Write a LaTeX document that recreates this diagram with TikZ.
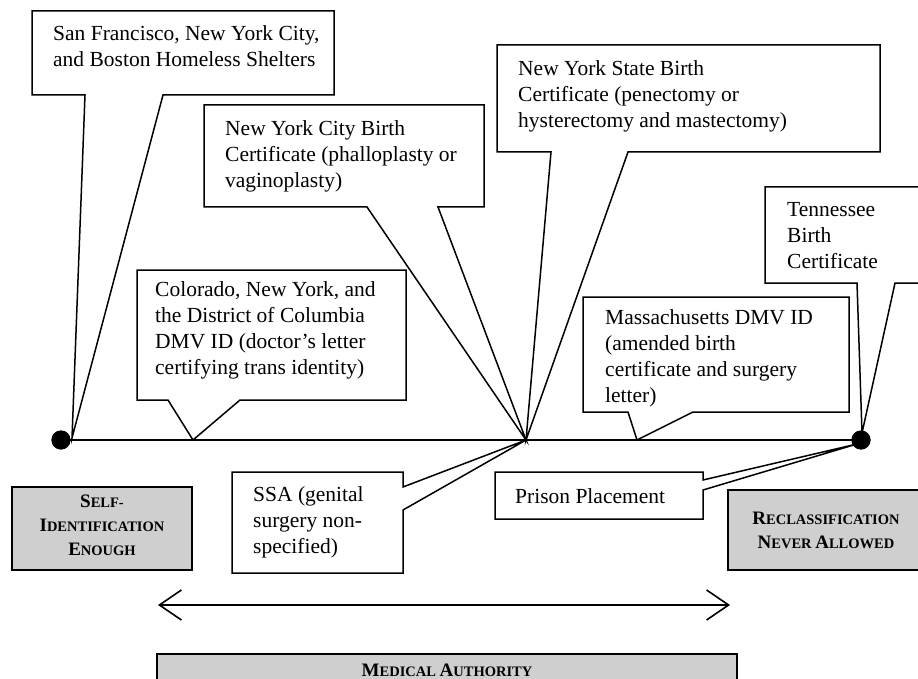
\documentclass[tikz,border=0pt]{standalone}
\usepackage{fontspec}
\setmainfont{Liberation Serif}
\usetikzlibrary{arrows.meta}
\newcommand{\fsc}[2]{{\fontsize{19}{25}\selectfont #1}{\fontsize{14.5}{25}\selectfont #2}}
\begin{document}
\begin{tikzpicture}[x=1pt,y=-1pt,
  ln/.style={line width=1.6pt},
  callout/.style={draw, fill=white, line width=1.5pt, line join=miter},
  txt/.style={anchor=north west, inner sep=0pt, align=left, font=\fontsize{21.5}{26}\selectfont},
  graybox/.style={draw, fill=black!19, line width=1.3pt},
  glabel/.style={inner sep=0pt, align=center, font=\bfseries\fontsize{14.5}{24}\selectfont},
  dot/.style={circle, fill=black, inner sep=0pt, minimum size=19pt}]
\useasboundingbox (0,0) rectangle (918,679);
% anchor points
\coordinate (hub) at (526,440);
\coordinate (tipL) at (72,438);
\coordinate (tipC) at (193,440);
\coordinate (tipM) at (637,440);
\coordinate (tipT) at (862,433);
\coordinate (tipP) at (857,444);
\node[dot] (dotL) at (61,440) {};
\node[dot] (dotR) at (861,440) {};
% main line
\draw[ln] (dotL.center) -- (dotR.center);
% callouts
\draw[callout] (32,11) -- (334,11) -- (334,95) -- (163,95) -- (tipL) -- (85,95) -- (32,95) -- cycle;
\draw[callout] (204,105) -- (484,105) -- (484,207) -- (438,207) -- (hub) -- (367,207) -- (204,207) -- cycle;
\draw[callout] (497,45) -- (880,45) -- (880,152) -- (628,152) -- (hub) -- (551,152) -- (497,152) -- cycle;
\draw[callout] (765,187) -- (935,187) -- (935,283) -- (895,283) -- (tipT) -- (857,283) -- (765,283) -- cycle;
\draw[callout] (137,270) -- (406,270) -- (406,400) -- (240,400) -- (tipC) -- (168,400) -- (137,400) -- cycle;
\draw[callout] (583,297) -- (849,297) -- (849,412) -- (693,412) -- (tipM) -- (628,412) -- (583,412) -- cycle;
\draw[callout] (232,472) -- (403,472) -- (403,487) -- (hub) -- (403,510) -- (403,573) -- (232,573) -- cycle;
\draw[callout] (495,472) -- (703,472) -- (703,480) -- (tipP) -- (703,490) -- (703,519) -- (495,519) -- cycle;
% dots on top
\node[dot] at (dotL) {};
\node[dot] at (dotR) {};
% texts
\node[txt] (t1) at (53,25) {San Francisco, New York City,\\and Boston Homeless Shelters};
\node[txt] (t2) at (225,120) {New York City Birth\\Certificate (phalloplasty or\\vaginoplasty)};
\node[txt] (t3) at (518,60) {New York State Birth\\Certificate (penectomy or\\hysterectomy and mastectomy)};
\node[txt] (t4) at (787,202) {Tennessee\\Birth\\Certificate};
\node[txt] (t5) at (155,281) {Colorado, New York, and\\the District of Columbia\\DMV ID (doctor's letter\\certifying trans identity)};
\node[txt] (t6) at (605,309) {Massachusetts DMV ID\\(amended birth\\certificate and surgery\\letter)};
\node[txt] (t7) at (253,486) {SSA (genital\\surgery non-\\specified)};
\node[txt] (t8) at (515,488) {Prison Placement};
% gray boxes
\draw[graybox] (12,487) rectangle (192,570);
\node[glabel] (g1) at (102,525) {\fsc{S}{ELF-}\\\fsc{I}{DENTIFICATION}\\\fsc{E}{NOUGH}};
\draw[graybox] (728,490) rectangle (930,570);
\node[glabel] (g2) at (826,530) {\fsc{R}{ECLASSIFICATION}\\\fsc{N}{EVER} \fsc{A}{LLOWED}};
\draw[graybox] (157,654) rectangle (737,690);
\node[glabel] (g3) at (447,670) {\fsc{M}{EDICAL} \fsc{A}{UTHORITY}};
% arrow
\coordinate (aL) at (158,605);
\coordinate (aR) at (730,605);
\draw[ln, {Straight Barb[length=22pt,width=30pt]}-{Straight Barb[length=22pt,width=30pt]}] (aL) -- (aR);
\end{tikzpicture}
\end{document}
